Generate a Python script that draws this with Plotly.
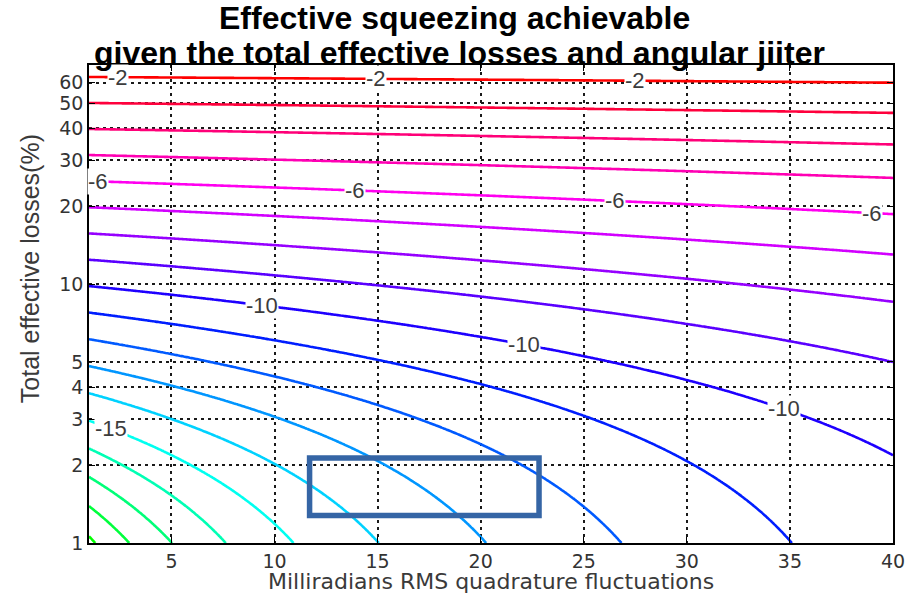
import numpy as np
import plotly.graph_objects as go

# Axes: RMS quadrature jitter (mrad) and total effective loss (%)
jitter_mrad = np.linspace(1.0, 40.0, 400)
loss_pct = np.logspace(0.0, np.log10(72.0), 400)

# Contour levels of achievable squeezing (dB) and their line colours (hsv, green -> red)
levels_db = [-19, -18, -17, -16, -15, -14, -13, -12, -11, -10,
             -9, -8, -7, -6, -5, -4, -3, -2]
level_colors = ["#00ff00", "#00ff3c", "#00ff78", "#00ffb4", "#00fff0", "#00d2ff",
                "#0096ff", "#005aff", "#001eff", "#1e00ff", "#5a00ff", "#9600ff",
                "#d200ff", "#ff00f0", "#ff00b4", "#ff0078", "#ff003c", "#ff0000"]

# Inline labels: level (dB) and jitter positions (mrad) where each label sits
label_levels = [-2, -6, -10, -15]
label_jitter = {
    -2: [2.4, 14.9, 27.5],
    -6: [1.45, 13.9, 26.5, 39.0],
    -10: [9.4, 22.1, 34.7],
    -15: [2.05],
}

x_ticks = [5, 10, 15, 20, 25, 30, 35, 40]
y_ticks = [1, 2, 3, 4, 5, 10, 20, 30, 40, 50, 60]

# Highlighted operating region (jitter mrad, loss %)
box_jitter = [11.7, 22.83]
box_loss = [1.277, 2.13]


def squeezing_db(loss_frac, theta_rad):
    # Best squeezing after optimising the initial squeezing parameter:
    # V = L + (1 - L) * sin(2*theta)
    return 10.0 * np.log10(loss_frac + (1.0 - loss_frac) * np.sin(2.0 * theta_rad))


def loss_on_level(level_db, jitter):
    s = np.sin(2.0 * jitter * 1e-3)
    v = 10.0 ** (level_db / 10.0)
    return 100.0 * (v - s) / (1.0 - s)


X, Y = np.meshgrid(jitter_mrad, loss_pct)
Z = squeezing_db(Y / 100.0, X * 1e-3)

n = len(levels_db) - 1
colorscale = [[i / n, c] for i, c in enumerate(level_colors)]

fig = go.Figure()
fig.add_trace(go.Contour(
    x=jitter_mrad, y=loss_pct, z=Z,
    zauto=False, zmin=levels_db[0], zmax=levels_db[-1],
    colorscale=colorscale, showscale=False,
    contours=dict(start=levels_db[0], end=levels_db[-1], size=1,
                  coloring="lines", showlabels=False),
    line=dict(width=2.6, smoothing=1),
    hoverinfo="skip",
))

label_font = dict(family="Liberation Sans", size=22, color="#3c3c3c")
annotations = []
for lvl in label_levels:
    for xj in label_jitter[lvl]:
        yl = loss_on_level(lvl, xj)
        annotations.append(dict(
            x=xj, y=float(np.log10(yl)), xref="x", yref="y",
            text=str(lvl), showarrow=False, font=label_font,
            bgcolor="white", borderpad=0,
        ))

# Title (two lines) and axis titles
annotations += [
    dict(text="<b>Effective squeezing achievable</b>", xref="paper", yref="paper",
         x=0.454, y=1.098, showarrow=False, xanchor="center", yanchor="middle",
         font=dict(family="Liberation Sans", size=32, color="black")),
    dict(text="<b>given the total effective losses and angular jiiter</b>",
         xref="paper", yref="paper", x=0.461, y=1.025, showarrow=False,
         xanchor="center", yanchor="middle",
         font=dict(family="Liberation Sans", size=32, color="black")),
    dict(text="Total effective losses(%)", xref="paper", yref="paper",
         x=-0.0734, y=0.575, textangle=-90, showarrow=False,
         xanchor="center", yanchor="middle",
         font=dict(family="Liberation Sans", size=25, color="#3a3a3a")),
    dict(text="Milliradians RMS quadrature fluctuations", xref="paper", yref="paper",
         x=0.5, y=-0.081, showarrow=False, xanchor="center", yanchor="middle",
         font=dict(family="DejaVu Sans", size=22, color="#3a3a3a")),
]

fig.add_shape(type="rect", xref="x", yref="y",
              x0=box_jitter[0], x1=box_jitter[1], y0=box_loss[0], y1=box_loss[1],
              line=dict(color="#3565a5", width=5.5), layer="above")

axis_common = dict(
    showline=True, linecolor="black", linewidth=1.6, mirror="ticks",
    ticks="inside", ticklen=6, tickwidth=1.4, tickcolor="black",
    showgrid=True, gridcolor="#1a1a1a", gridwidth=1.5, griddash="2.5px,4.5px",
    zeroline=False,
    tickfont=dict(family="DejaVu Sans", size=19, color="#333333"),
)

fig.update_layout(
    width=921, height=593,
    margin=dict(l=89, r=28, t=65, b=50),
    paper_bgcolor="white", plot_bgcolor="white",
    showlegend=False,
    annotations=annotations,
    xaxis=dict(range=[1, 40], tickvals=x_ticks, ticktext=[str(v) for v in x_ticks],
               ticklabelstandoff=0, **axis_common),
    yaxis=dict(type="log", range=[0, np.log10(70.1)], tickvals=y_ticks,
               ticktext=[str(v) for v in y_ticks], **axis_common),
)

fig.write_html("out.html")
